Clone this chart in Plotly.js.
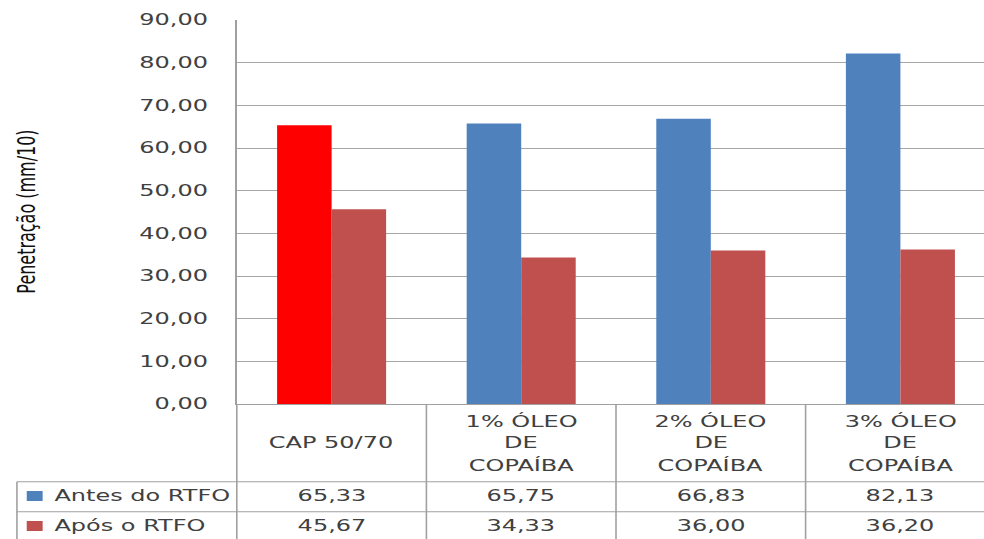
<!DOCTYPE html>
<html>
<head>
<meta charset="utf-8">
<script src="https://cdn.plot.ly/plotly-3.0.1.min.js"></script>
<style>
  html, body { margin: 0; padding: 0; overflow: hidden; background: #fff; }
  /* the chart is laid out narrow and widened horizontally as a whole */
  #chart { width: 630px; height: 539px; transform: scaleX(1.6); transform-origin: 0 0; }
</style>
</head>
<body>
<div id="chart"></div>
<script>
// categories (line breaks mark how the table headers wrap)
const categories = ['CAP 50/70', '1% ÓLEO\nDE\nCOPAÍBA', '2% ÓLEO\nDE\nCOPAÍBA', '3% ÓLEO\nDE\nCOPAÍBA'];
const seriesNames = ['Antes do RTFO', 'Após o RTFO'];
const antes = [65.33, 65.75, 66.83, 82.13];
const apos = [45.67, 34.33, 36.00, 36.20];
const yTicks = [0, 10, 20, 30, 40, 50, 60, 70, 80, 90];
const yTitle = 'Penetração (mm/10)';

const BLUE = '#4F81BD', BROWN = '#C0504D', RED = '#FF0000';
const GRID = '#a6a6a6', LINE = '#a0a0a0', TEXT = '#404040';
const FONT = 'DejaVu Sans';

const xLabels = categories.map(c => c.split('\n').join(' '));
// the reference binder (first category) is highlighted in red
const antesColors = categories.map((c, i) => i === 0 ? RED : BLUE);
const seriesValues = [antes, apos];
const seriesColors = [BLUE, BROWN];

const fmt = v => v.toFixed(2).replace('.', ',');

const traces = [
  { type: 'bar', name: seriesNames[0], x: xLabels, y: antes,
    marker: { color: antesColors, line: { width: 0 } }, hoverinfo: 'skip' },
  { type: 'bar', name: seriesNames[1], x: xLabels, y: apos,
    marker: { color: BROWN, line: { width: 0 } }, hoverinfo: 'skip' }
];

// data table below the plot, in paper units of the plot height
const plotH = 384;
const py = px => -px / plotH;           // pixels below the x axis -> paper y
const tableLeft = -0.2899;
const rowTop = [py(77.7), py(107.7)];
const tableBottom = py(140);
const headerCenter = py(39);
const lineStep = 22 / plotH;
const rowCenter = [py(92), py(122)];

const shapes = [];
const annotations = [];
const lineStyle = { color: LINE, width: 1 };

// vertical cell borders
shapes.push({ type: 'line', xref: 'paper', yref: 'paper', x0: 0, x1: 0, y0: 0, y1: tableBottom, line: lineStyle });
for (let i = 0; i < categories.length; i++) {
  shapes.push({ type: 'line', xref: 'x', yref: 'paper', x0: i + 0.5, x1: i + 0.5, y0: 0, y1: tableBottom, line: lineStyle });
}
shapes.push({ type: 'line', xref: 'paper', yref: 'paper', x0: tableLeft, x1: tableLeft, y0: rowTop[0], y1: tableBottom, line: lineStyle });
// horizontal row borders
rowTop.forEach(y => {
  shapes.push({ type: 'line', xref: 'paper', yref: 'paper', x0: tableLeft, x1: 1.05, y0: y, y1: y, line: lineStyle });
});

// column headers
categories.forEach((c, i) => {
  const lines = c.split('\n');
  const n = lines.length;
  lines.forEach((t, j) => {
    annotations.push({ xref: 'x', yref: 'paper', x: i, y: headerCenter + ((n - 1) / 2 - j) * lineStep,
      text: t, showarrow: false, xanchor: 'center', yanchor: 'middle',
      font: { family: FONT, size: 15, color: TEXT } });
  });
});

// series rows: legend key, name and values
seriesNames.forEach((name, r) => {
  const yc = rowCenter[r];
  shapes.push({ type: 'rect', xref: 'paper', yref: 'paper', x0: -0.277, x1: -0.256,
    y0: yc - 5 / plotH, y1: yc + 5 / plotH, fillcolor: seriesColors[r], line: { width: 0 } });
  annotations.push({ xref: 'paper', yref: 'paper', x: -0.244, y: yc, text: name, showarrow: false,
    xanchor: 'left', yanchor: 'middle', font: { family: FONT, size: 15, color: TEXT } });
  seriesValues[r].forEach((v, i) => {
    annotations.push({ xref: 'x', yref: 'paper', x: i, y: yc, text: fmt(v), showarrow: false,
      xanchor: 'center', yanchor: 'middle', font: { family: FONT, size: 15, color: TEXT } });
  });
});

// y axis title
annotations.push({ xref: 'paper', yref: 'paper', x: -0.279, y: 0.5, text: yTitle, textangle: -90,
  showarrow: false, xanchor: 'center', yanchor: 'middle', font: { family: FONT, size: 16, color: '#111111' } });

const layout = {
  width: 630, height: 539,
  margin: { l: 148, r: 8, t: 20, b: 135 },
  paper_bgcolor: '#fff', plot_bgcolor: '#fff',
  separators: ',.',
  showlegend: false,
  barmode: 'group', bargap: 0.425, bargroupgap: 0,
  xaxis: { type: 'category', range: [-0.5, 3.5], showticklabels: false, showgrid: false,
    showline: true, linecolor: LINE, linewidth: 1, zeroline: false, ticks: '', fixedrange: true },
  yaxis: { range: [0, 90], tickvals: yTicks, tickformat: '.2f', showgrid: true, gridcolor: GRID, gridwidth: 1,
    showline: true, linecolor: LINE, linewidth: 1, zeroline: false, ticks: '', ticklabelstandoff: 14,
    tickfont: { family: FONT, size: 15, color: TEXT }, fixedrange: true },
  shapes: shapes,
  annotations: annotations
};

Plotly.newPlot('chart', traces, layout, { displayModeBar: false, staticPlot: true });
</script>
</body>
</html>
